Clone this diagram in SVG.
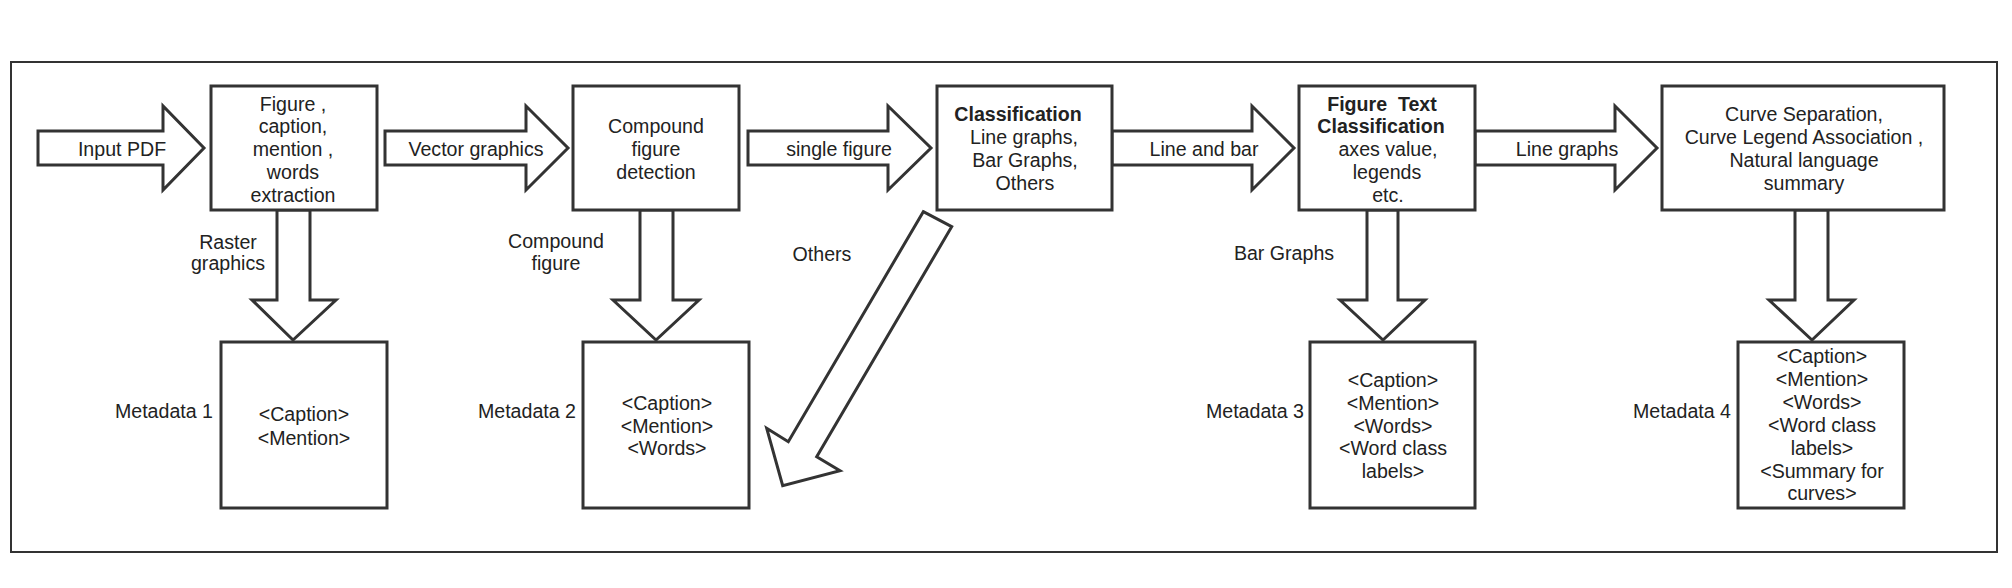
<svg xmlns="http://www.w3.org/2000/svg" width="2012" height="588" viewBox="0 0 2012 588">
<style>
.box{fill:#fff;stroke:#333;stroke-width:3}
.arr{fill:#fff;stroke:#333;stroke-width:3;stroke-linejoin:miter}
.frame{fill:none;stroke:#333;stroke-width:2}
text{font-family:"Liberation Sans",Arial,sans-serif;font-size:19.6px;fill:#222;text-anchor:middle}
.b{font-weight:bold}
.r{text-anchor:end}
</style>
<rect width="2012" height="588" fill="#fff"/>
<rect class="frame" x="11" y="62" width="1986" height="490"/>
<g id="connectors">
<polygon class="arr" points="38,131 163,131 163,106 204,148 163,190 163,165 38,165"/>
<text x="122" y="156">Input PDF</text>
<polygon class="arr" points="385,131 526,131 526,106 568,148 526,190 526,165 385,165"/>
<text x="476" y="156">Vector graphics</text>
<polygon class="arr" points="748,131 888,131 888,106 931,148 888,190 888,165 748,165"/>
<text x="839" y="156">single figure</text>
<polygon class="arr" points="1112,131 1252,131 1252,106 1294,148 1252,190 1252,165 1112,165"/>
<text x="1204" y="156">Line and bar</text>
<polygon class="arr" points="1475,131 1615,131 1615,106 1657,148 1615,190 1615,165 1475,165"/>
<text x="1567" y="156">Line graphs</text>
<polygon class="arr" points="277,210 277,300 252,300 293,340 336,300 310,300 310,210"/>
<text x="228" y="249">Raster</text>
<text x="228" y="270">graphics</text>
<polygon class="arr" points="640,210 640,300 613,300 656,340 699,300 673,300 673,210"/>
<text x="556" y="248">Compound</text>
<text x="556" y="270">figure</text>
<polygon class="arr" points="923.3,211.7 951.7,226.7 816.7,456.7 840,470.7 782.7,485.7 766.7,428.3 788.3,441.7"/>
<text x="822" y="261">Others</text>
<polygon class="arr" points="1367,210 1367,300 1340,300 1383,340 1425,300 1398,300 1398,210"/>
<text x="1284" y="260">Bar Graphs</text>
<polygon class="arr" points="1795,210 1795,300 1769,300 1812,340 1854,300 1828,300 1828,210"/>
</g>
<g id="n1">
<rect class="box" x="211" y="86" width="166" height="124"/>
<text x="293" y="111">Figure ,</text>
<text x="293" y="133">caption,</text>
<text x="293" y="156">mention ,</text>
<text x="293" y="179">words</text>
<text x="293" y="202">extraction</text>
</g>
<g id="n2">
<rect class="box" x="573" y="86" width="166" height="124"/>
<text x="656" y="133">Compound</text>
<text x="656" y="156">figure</text>
<text x="656" y="179">detection</text>
</g>
<g id="n3">
<rect class="box" x="937" y="86" width="175" height="124"/>
<text class="b" x="1018" y="121">Classification</text>
<text x="1024" y="144">Line graphs,</text>
<text x="1025" y="167">Bar Graphs,</text>
<text x="1025" y="190">Others</text>
</g>
<g id="n4">
<rect class="box" x="1299" y="86" width="176" height="124"/>
<text class="b" x="1382" y="111" xml:space="preserve">Figure  Text</text>
<text class="b" x="1381" y="133">Classification</text>
<text x="1388" y="156">axes value,</text>
<text x="1387" y="179">legends</text>
<text x="1388" y="202">etc.</text>
</g>
<g id="n5">
<rect class="box" x="1662" y="86" width="282" height="124"/>
<text x="1804" y="121">Curve Separation,</text>
<text x="1804" y="144">Curve Legend Association ,</text>
<text x="1804" y="167">Natural language</text>
<text x="1804" y="190">summary</text>
</g>
<g id="m1">
<rect class="box" x="221" y="342" width="166" height="166"/>
<text x="304" y="421">&lt;Caption&gt;</text>
<text x="304" y="445">&lt;Mention&gt;</text>
<text class="r" x="213" y="418">Metadata 1</text>
</g>
<g id="m2">
<rect class="box" x="583" y="342" width="166" height="166"/>
<text x="667" y="410">&lt;Caption&gt;</text>
<text x="667" y="433">&lt;Mention&gt;</text>
<text x="667" y="455">&lt;Words&gt;</text>
<text class="r" x="576" y="418">Metadata 2</text>
</g>
<g id="m3">
<rect class="box" x="1310" y="342" width="165" height="166"/>
<text x="1393" y="387">&lt;Caption&gt;</text>
<text x="1393" y="410">&lt;Mention&gt;</text>
<text x="1393" y="433">&lt;Words&gt;</text>
<text x="1393" y="455">&lt;Word class</text>
<text x="1393" y="478">labels&gt;</text>
<text class="r" x="1304" y="418">Metadata 3</text>
</g>
<g id="m4">
<rect class="box" x="1738" y="342" width="166" height="166"/>
<text x="1822" y="363">&lt;Caption&gt;</text>
<text x="1822" y="386">&lt;Mention&gt;</text>
<text x="1822" y="409">&lt;Words&gt;</text>
<text x="1822" y="432">&lt;Word class</text>
<text x="1822" y="455">labels&gt;</text>
<text x="1822" y="478">&lt;Summary for</text>
<text x="1822" y="500">curves&gt;</text>
<text class="r" x="1731" y="418">Metadata 4</text>
</g>
</svg>
